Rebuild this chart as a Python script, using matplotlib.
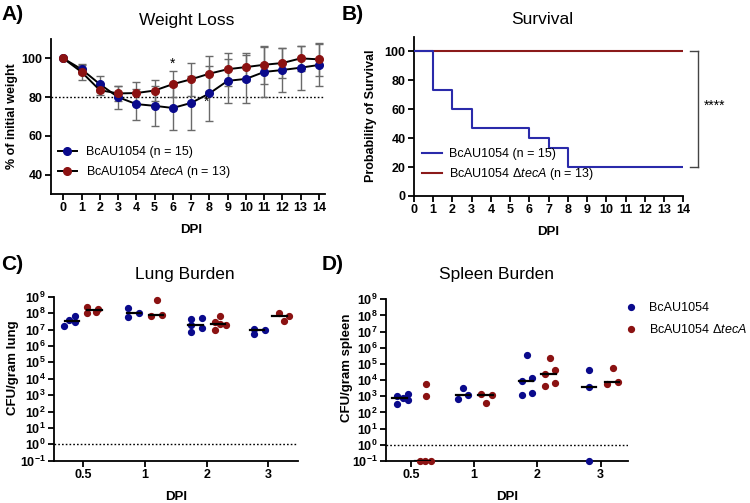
import numpy as np
import matplotlib
matplotlib.use("Agg")
import matplotlib.pyplot as plt
from matplotlib.lines import Line2D

plt.rcParams['font.family'] = ['Liberation Sans', 'DejaVu Sans']
plt.rcParams['mathtext.fontset'] = 'custom'
plt.rcParams['mathtext.rm'] = 'Liberation Sans'
plt.rcParams['mathtext.it'] = 'Liberation Sans:italic'
plt.rcParams['mathtext.bf'] = 'Liberation Sans:bold'

BLUE = '#0a0a8c'
RED = '#8b1212'
BLUE_L = '#2a2aaa'
RED_L = '#8b1a1a'
GRAY = '#6a6a6a'

# ---------------- data ----------------
days = list(range(15))
wt_mean = [100, 94.4, 86.7, 80.0, 76.4, 75.5, 74.4, 77.0, 81.9, 88.4, 89.4, 93.0, 94.0, 95.2, 96.6]
wt_sd = [0, 2.3, 4.3, 6.0, 8.0, 10.5, 11.6, 14.0, 14.3, 11.5, 12.5, 13.0, 11.4, 11.4, 10.9]
ko_mean = [100, 93.0, 83.6, 81.9, 82.1, 83.4, 86.7, 89.2, 92.1, 94.4, 95.5, 96.7, 97.6, 100.0, 99.5]
ko_sd = [0, 4.0, 2.4, 4.0, 5.8, 5.2, 6.7, 8.6, 8.9, 8.4, 7.3, 9.9, 7.9, 6.6, 8.4]

surv_time_wt = [0, 1, 2, 3, 6, 7, 8, 14]
surv_wt = [100, 73.3, 60.0, 46.7, 40.0, 33.3, 20.0, 20.0]
surv_time_ko = [0, 14]
surv_ko = [100, 100]

burden_cats = ['0.5', '1', '2', '3']
# log10 CFU/gram lung
lung_wt = [[7.21, 7.56, 7.80, 7.48], [8.33, 7.76, 8.02], [7.62, 7.27, 6.85, 7.68, 7.11], [7.03, 6.70, 6.97]]
lung_ko = [[8.35, 8.02, 8.07, 8.25], [8.78, 7.84, 7.88], [7.46, 6.95, 7.82, 7.35, 7.27], [7.98, 7.52, 7.84]]
# log10 CFU/gram spleen (-1 = below detection)
spleen_wt = [[3.04, 2.88, 3.14, 2.75, 2.51], [2.84, 3.54, 3.10], [5.54, 3.95, 4.13, 3.08, 3.23], [4.63, 3.60, -1]]
spleen_ko = [[3.76, 3.02, -1, -1, -1], [3.12, 2.57, 3.10], [5.35, 4.38, 4.65, 3.66, 3.80], [4.73, 3.76, 3.87]]

# jitter offsets (horizontal spread of the column scatter)
lung_wt_dx = [[-0.31, -0.23, -0.14, -0.14], [-0.28, -0.28, -0.10], [-0.25, -0.25, -0.25, -0.08, -0.08], [-0.23, -0.23, -0.05]]
lung_ko_dx = [[0.065, 0.065, 0.20, 0.24], [0.19, 0.10, 0.28], [0.13, 0.13, 0.22, 0.22, 0.31], [0.17, 0.26, 0.34]]
spl_wt_dx = [[-0.22, -0.13, -0.05, -0.05, -0.22], [-0.26, -0.17, -0.09], [-0.17, -0.25, -0.08, -0.25, -0.08], [-0.18, -0.18, -0.18]]
spl_ko_dx = [[0.24, 0.24, 0.14, 0.22, 0.31], [0.105, 0.19, 0.28], [0.20, 0.12, 0.28, 0.12, 0.28], [0.19, 0.10, 0.27]]

LBL_WT = 'BcAU1054 (n = 15)'
LBL_KO = r'BcAU1054 $\mathit{\Delta tecA}$ (n = 13)'

fig = plt.figure(figsize=(7.5, 5.03), dpi=100)


def px_axes(l, t, r, b):
    return fig.add_axes([l / 750, 1 - b / 503, (r - l) / 750, (b - t) / 503])


def fx(x):
    return x / 750


def fy(y):
    return 1 - y / 503


TICKFS = 9


def style(ax):
    for s in ['top', 'right']:
        ax.spines[s].set_visible(False)
    for s in ['left', 'bottom']:
        ax.spines[s].set_linewidth(1.3)
    ax.tick_params(width=1.3, length=4, labelsize=TICKFS, pad=2)
    for lab in ax.get_xticklabels() + ax.get_yticklabels():
        lab.set_fontweight('bold')


# ---------------- A: weight loss ----------------
axA = px_axes(51, 39, 325, 194)
axA.set_xlim(-0.67, 14.33)
axA.set_ylim(30, 110)
axA.axhline(80, color='black', ls=(0, (1.2, 1.5)), lw=1.0, zorder=1)
axA.errorbar(days, wt_mean, yerr=wt_sd, fmt='none', ecolor=GRAY, elinewidth=1.0, capsize=2.7, capthick=1.0, zorder=2)
axA.errorbar(days, ko_mean, yerr=ko_sd, fmt='none', ecolor=GRAY, elinewidth=1.0, capsize=2.7, capthick=1.0, zorder=2)
axA.plot(days, wt_mean, color='black', lw=1.4, marker='o', ms=5.5, mfc=BLUE, mec=BLUE, zorder=3, label=LBL_WT)
axA.plot(days, ko_mean, color='black', lw=1.4, marker='o', ms=5.5, mfc=RED, mec=RED, zorder=4, label=LBL_KO)
axA.text(6, 97.0, '*', ha='center', va='center', fontsize=10, zorder=6)
axA.text(7.84, 77.6, '*', ha='center', va='center', fontsize=10, zorder=6)
axA.set_xticks(days)
axA.set_yticks([40, 60, 80, 100])
style(axA)
axA.legend(loc='upper left', bbox_to_anchor=(0.025, 0.31), frameon=False, fontsize=9,
           handlelength=1.5, handletextpad=0.75, labelspacing=0.5, borderpad=0, borderaxespad=0)
fig.text(fx(12), fy(116), '% of initial weight', rotation=90, ha='center', va='center', fontsize=9, fontweight='bold')
fig.text(fx(191), fy(230), 'DPI', ha='center', va='center', fontsize=9.5, fontweight='bold')
fig.text(fx(187), fy(20), 'Weight Loss', ha='center', va='center', fontsize=12.5)
fig.text(fx(1), fy(14), 'A)', ha='left', va='center', fontsize=15, fontweight='bold')

# ---------------- B: survival ----------------
axB = px_axes(414, 36.7, 683.3, 196)
axB.set_xlim(0, 14)
axB.set_ylim(0, 110)
axB.step(surv_time_ko, surv_ko, where='post', color=RED_L, lw=1.5, label=LBL_KO, zorder=2)
axB.step(surv_time_wt, surv_wt, where='post', color=BLUE_L, lw=1.5, label=LBL_WT, zorder=3)
axB.set_xticks(days)
axB.set_yticks([0, 20, 40, 60, 80, 100])
style(axB)
bx0, bx1 = 14.35, 14.75
for yv in (100, 20):
    axB.plot([bx0, bx1], [yv, yv], color='#444444', lw=1.0, clip_on=False)
axB.plot([bx1, bx1], [20, 100], color='#444444', lw=1.0, clip_on=False)
axB.text(15.05, 62, '****', ha='left', va='center', fontsize=10)
hB = [Line2D([], [], color=BLUE_L, lw=1.5), Line2D([], [], color=RED_L, lw=1.5)]
axB.legend(hB, [LBL_WT, LBL_KO], loc='upper left', bbox_to_anchor=(0.028, 0.30), frameon=False, fontsize=9,
           handlelength=1.6, handletextpad=0.6, labelspacing=0.5, borderpad=0, borderaxespad=0)
fig.text(fx(371), fy(116), 'Probability of Survival', rotation=90, ha='center', va='center', fontsize=9, fontweight='bold')
fig.text(fx(548), fy(232), 'DPI', ha='center', va='center', fontsize=9.5, fontweight='bold')
fig.text(fx(542), fy(20), 'Survival', ha='center', va='center', fontsize=12.5)
fig.text(fx(342), fy(14), 'B)', ha='left', va='center', fontsize=15, fontweight='bold')


# ---------------- C / D: burden ----------------
def burden(ax, wt, ko, wt_dx, ko_dx):
    ax.set_yscale('log')
    ax.set_ylim(1e-1, 1e9)
    ax.axhline(1, color='black', ls=(0, (1.2, 1.5)), lw=1.0, zorder=1)
    for i in range(len(burden_cats)):
        for vals, dxs, col, sgn in ((wt[i], wt_dx[i], BLUE, -1), (ko[i], ko_dx[i], RED, 1)):
            xs = [i + d for d in dxs]
            ys = [10.0 ** v for v in vals]
            ax.plot(xs, ys, 'o', ms=4.2, color=col, mec=col, clip_on=False, zorder=3)
            c = i + sgn * 0.18
            med = 10.0 ** np.median(vals)
            ax.plot([c - 0.115, c + 0.115], [med, med], color='black', lw=1.6, zorder=4)
    ax.set_xticks(range(len(burden_cats)))
    ax.set_xticklabels(burden_cats)
    ks = list(range(-1, 10))
    ax.set_yticks([10.0 ** k for k in ks])
    ax.set_yticklabels([r'$\mathbf{10^{%d}}$' % k for k in ks])
    ax.minorticks_off()
    style(ax)


axC = px_axes(54, 296.7, 298, 460.7)
axC.set_xlim(-0.475, 3.48)
burden(axC, lung_wt, lung_ko, lung_wt_dx, lung_ko_dx)
fig.text(fx(13), fy(368), 'CFU/gram lung', rotation=90, ha='center', va='center', fontsize=9.5, fontweight='bold')
fig.text(fx(176), fy(497), 'DPI', ha='center', va='center', fontsize=9.5, fontweight='bold')
fig.text(fx(185), fy(275), 'Lung Burden', ha='center', va='center', fontsize=12.5)
fig.text(fx(1), fy(265), 'C)', ha='left', va='center', fontsize=15, fontweight='bold')

axD = px_axes(385.7, 299.3, 628.3, 461)
axD.set_xlim(-0.40, 3.44)
burden(axD, spleen_wt, spleen_ko, spl_wt_dx, spl_ko_dx)
fig.text(fx(347), fy(368), 'CFU/gram spleen', rotation=90, ha='center', va='center', fontsize=9.5, fontweight='bold')
fig.text(fx(507), fy(497), 'DPI', ha='center', va='center', fontsize=9.5, fontweight='bold')
fig.text(fx(497), fy(275), 'Spleen Burden', ha='center', va='center', fontsize=12.5)
fig.text(fx(322), fy(265), 'D)', ha='left', va='center', fontsize=15, fontweight='bold')

hD = [Line2D([], [], ls='none', marker='o', ms=4.2, color=BLUE),
      Line2D([], [], ls='none', marker='o', ms=4.2, color=RED)]
fig.legend(hD, ['BcAU1054', r'BcAU1054 $\mathit{\Delta tecA}$'], loc='upper left',
           bbox_to_anchor=(fx(623), fy(302)), frameon=False, fontsize=9,
           handlelength=1.2, handletextpad=0.9, labelspacing=0.75, borderpad=0, borderaxespad=0)

fig.savefig('out.png', dpi=100)
